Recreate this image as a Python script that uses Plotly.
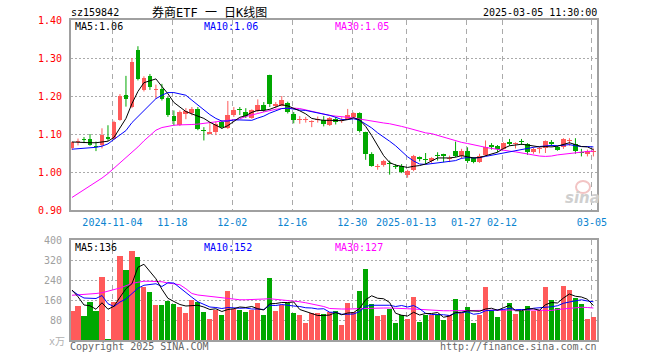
import plotly.graph_objects as go

dates = [
    "2024-10-24", "2024-10-25", "2024-10-28", "2024-10-29", "2024-10-30", "2024-10-31", "2024-11-01",
    "2024-11-04", "2024-11-05", "2024-11-06", "2024-11-07", "2024-11-08",
    "2024-11-11", "2024-11-12", "2024-11-13", "2024-11-14", "2024-11-15",
    "2024-11-18", "2024-11-19", "2024-11-20", "2024-11-21", "2024-11-22",
    "2024-11-25", "2024-11-26", "2024-11-27", "2024-11-28", "2024-11-29",
    "2024-12-02", "2024-12-03", "2024-12-04", "2024-12-05", "2024-12-06",
    "2024-12-09", "2024-12-10", "2024-12-11", "2024-12-12", "2024-12-13",
    "2024-12-16", "2024-12-17", "2024-12-18", "2024-12-19", "2024-12-20",
    "2024-12-23", "2024-12-24", "2024-12-25", "2024-12-26", "2024-12-27",
    "2024-12-30", "2024-12-31", "2025-01-02", "2025-01-03",
    "2025-01-06", "2025-01-07", "2025-01-08", "2025-01-09", "2025-01-10",
    "2025-01-13", "2025-01-14", "2025-01-15", "2025-01-16", "2025-01-17",
    "2025-01-20", "2025-01-21", "2025-01-22", "2025-01-23", "2025-01-24",
    "2025-01-27", "2025-02-05", "2025-02-06", "2025-02-07",
    "2025-02-10", "2025-02-11", "2025-02-12", "2025-02-13", "2025-02-14",
    "2025-02-17", "2025-02-18", "2025-02-19", "2025-02-20", "2025-02-21",
    "2025-02-24", "2025-02-25", "2025-02-26", "2025-02-27", "2025-02-28",
    "2025-03-03", "2025-03-04", "2025-03-05",
]

opens = [1.063, 1.080, 1.087, 1.088, 1.068, 1.070, 1.092, 1.088, 1.138, 1.203,
         1.172, 1.321, 1.217, 1.253, 1.215, 1.219, 1.195, 1.147, 1.123, 1.153,
         1.154, 1.165, 1.111, 1.101, 1.105, 1.132, 1.116, 1.149, 1.165, 1.158,
         1.142, 1.160, 1.177, 1.254, 1.174, 1.175, 1.182, 1.153, 1.138, 1.138,
         1.132, 1.137, 1.136, 1.123, 1.140, 1.133, 1.140, 1.145, 1.155, 1.104,
         1.047, 1.013, 1.019, 1.025, 1.014, 1.017, 0.991, 1.004, 1.039, 1.033,
         1.028, 1.044, 1.047, 1.035, 1.056, 1.041, 1.056, 1.036, 1.026, 1.045,
         1.069, 1.069, 1.061, 1.078, 1.074, 1.081, 1.074, 1.052, 1.060, 1.062,
         1.077, 1.065, 1.065, 1.082, 1.074, 1.053, 1.048, 1.052]
highs = [1.080, 1.088, 1.092, 1.100, 1.080, 1.115, 1.123, 1.135, 1.205, 1.253,
         1.300, 1.331, 1.252, 1.258, 1.230, 1.232, 1.198, 1.162, 1.162, 1.168,
         1.171, 1.171, 1.118, 1.132, 1.132, 1.136, 1.187, 1.171, 1.171, 1.168,
         1.165, 1.191, 1.184, 1.256, 1.184, 1.200, 1.185, 1.158, 1.147, 1.145,
         1.136, 1.146, 1.147, 1.145, 1.145, 1.144, 1.166, 1.157, 1.157, 1.106,
         1.052, 1.021, 1.032, 1.030, 1.021, 1.021, 1.006, 1.045, 1.041, 1.050,
         1.039, 1.052, 1.048, 1.043, 1.080, 1.061, 1.065, 1.039, 1.048, 1.083,
         1.076, 1.071, 1.078, 1.087, 1.078, 1.087, 1.076, 1.065, 1.065, 1.083,
         1.084, 1.069, 1.089, 1.089, 1.089, 1.061, 1.059, 1.062]
lows = [1.058, 1.070, 1.076, 1.069, 1.055, 1.062, 1.082, 1.085, 1.135, 1.172,
        1.168, 1.241, 1.212, 1.216, 1.193, 1.188, 1.145, 1.122, 1.121, 1.139,
        1.149, 1.110, 1.083, 1.099, 1.097, 1.114, 1.113, 1.145, 1.150, 1.142,
        1.140, 1.157, 1.158, 1.171, 1.168, 1.173, 1.154, 1.128, 1.127, 1.130,
        1.118, 1.130, 1.120, 1.121, 1.125, 1.129, 1.137, 1.143, 1.104, 1.032,
        1.014, 1.006, 1.014, 0.993, 1.008, 0.997, 0.985, 1.002, 1.028, 1.021,
        1.024, 1.030, 1.026, 1.026, 1.039, 1.035, 1.024, 1.023, 1.024, 1.043,
        1.059, 1.052, 1.059, 1.069, 1.062, 1.071, 1.045, 1.048, 1.049, 1.050,
        1.067, 1.056, 1.061, 1.069, 1.048, 1.041, 1.041, 1.041]
closes = [1.078, 1.082, 1.085, 1.072, 1.066, 1.097, 1.086, 1.132, 1.200, 1.191,
          1.290, 1.245, 1.247, 1.223, 1.218, 1.192, 1.150, 1.134, 1.158, 1.160,
          1.165, 1.113, 1.109, 1.106, 1.127, 1.118, 1.151, 1.162, 1.162, 1.147,
          1.162, 1.177, 1.162, 1.178, 1.180, 1.190, 1.158, 1.136, 1.140, 1.139,
          1.134, 1.139, 1.127, 1.142, 1.132, 1.137, 1.150, 1.155, 1.109, 1.047,
          1.017, 1.015, 1.028, 1.020, 1.012, 0.999, 1.002, 1.041, 1.033, 1.031,
          1.036, 1.042, 1.041, 1.037, 1.041, 1.054, 1.028, 1.026, 1.043, 1.065,
          1.067, 1.061, 1.076, 1.074, 1.075, 1.079, 1.052, 1.061, 1.061, 1.082,
          1.075, 1.059, 1.087, 1.084, 1.054, 1.051, 1.054, 1.054]
volumes = [117, 135, 95, 151, 115, 251, 5, 151, 335, 281,
           355, 331, 211, 191, 139, 141, 155, 144, 131, 107,
           159, 152, 111, 83, 121, 101, 195, 124, 121, 111,
           121, 147, 99, 248, 115, 141, 148, 108, 99, 67,
           109, 109, 104, 112, 117, 61, 148, 112, 197, 285,
           144, 97, 101, 125, 69, 101, 85, 173, 73, 99,
           99, 104, 81, 99, 165, 108, 133, 69, 101, 211,
           121, 93, 119, 149, 105, 117, 137, 117, 121, 213,
           161, 128, 217, 201, 168, 144, 85, 93]

ma5 = [1.079, 1.078, 1.078, 1.077, 1.077, 1.080, 1.081, 1.091, 1.116, 1.141,
       1.180, 1.212, 1.235, 1.239, 1.245, 1.225, 1.206, 1.183, 1.170, 1.159,
       1.153, 1.146, 1.141, 1.131, 1.124, 1.115, 1.122, 1.133, 1.144, 1.148,
       1.157, 1.162, 1.162, 1.165, 1.172, 1.177, 1.174, 1.168, 1.161, 1.153,
       1.141, 1.138, 1.136, 1.136, 1.135, 1.135, 1.138, 1.143, 1.137, 1.120,
       1.096, 1.069, 1.043, 1.025, 1.018, 1.015, 1.012, 1.015, 1.017, 1.021,
       1.029, 1.037, 1.037, 1.037, 1.039, 1.043, 1.040, 1.037, 1.038, 1.043,
       1.046, 1.052, 1.062, 1.069, 1.071, 1.073, 1.071, 1.068, 1.066, 1.067,
       1.066, 1.068, 1.073, 1.077, 1.072, 1.067, 1.066, 1.059]
ma10 = [1.060, 1.061, 1.062, 1.064, 1.065, 1.068, 1.074, 1.086, 1.097, 1.109,
        1.130, 1.146, 1.163, 1.178, 1.193, 1.202, 1.209, 1.209, 1.205, 1.202,
        1.189, 1.176, 1.162, 1.151, 1.141, 1.134, 1.134, 1.137, 1.137, 1.136,
        1.136, 1.142, 1.147, 1.155, 1.160, 1.167, 1.168, 1.165, 1.163, 1.162,
        1.159, 1.156, 1.152, 1.149, 1.144, 1.138, 1.138, 1.140, 1.136, 1.127,
        1.116, 1.103, 1.093, 1.081, 1.069, 1.055, 1.040, 1.029, 1.021, 1.020,
        1.022, 1.024, 1.026, 1.027, 1.030, 1.036, 1.038, 1.037, 1.038, 1.041,
        1.044, 1.046, 1.050, 1.054, 1.057, 1.059, 1.062, 1.065, 1.067, 1.069,
        1.070, 1.069, 1.071, 1.072, 1.069, 1.067, 1.067, 1.066]
ma30 = [0.933, 0.943, 0.953, 0.962, 0.973, 0.984, 0.996, 1.010, 1.022, 1.037,
        1.050, 1.066, 1.082, 1.097, 1.110, 1.117, 1.121, 1.123, 1.124, 1.124,
        1.125, 1.126, 1.128, 1.131, 1.133, 1.134, 1.136, 1.137, 1.140, 1.146,
        1.149, 1.154, 1.158, 1.162, 1.165, 1.167, 1.168, 1.168, 1.167, 1.163,
        1.160, 1.156, 1.152, 1.149, 1.147, 1.146, 1.144, 1.142, 1.139, 1.137,
        1.135, 1.132, 1.129, 1.127, 1.124, 1.120, 1.116, 1.111, 1.107, 1.103,
        1.101, 1.096, 1.091, 1.086, 1.081, 1.078, 1.075, 1.071, 1.068, 1.065,
        1.062, 1.059, 1.056, 1.055, 1.053, 1.050, 1.046, 1.043, 1.042, 1.041,
        1.042, 1.045, 1.047, 1.049, 1.051, 1.052, 1.054, 1.055]

vma5 = [200, 173, 140, 137, 123, 149, 123, 135, 171, 205,
        225, 291, 303, 274, 245, 203, 167, 154, 142, 136,
        139, 139, 132, 122, 125, 114, 122, 125, 132, 130,
        134, 125, 120, 145, 146, 150, 150, 152, 122, 113,
        106, 98, 98, 100, 110, 101, 108, 110, 127, 161,
        177, 167, 165, 150, 107, 99, 96, 111, 100, 106,
        106, 110, 91, 96, 110, 111, 117, 115, 115, 124,
        127, 119, 129, 139, 117, 117, 125, 125, 119, 141,
        150, 148, 168, 184, 175, 172, 163, 138]
vma10 = [198, 181, 168, 168, 166, 178, 145, 134, 152, 164,
         187, 207, 219, 223, 225, 214, 229, 228, 208, 191,
         171, 153, 143, 132, 130, 126, 130, 128, 127, 128,
         124, 124, 122, 139, 138, 142, 138, 136, 134, 129,
         128, 124, 125, 111, 111, 103, 103, 104, 114, 135,
         139, 138, 137, 139, 134, 138, 132, 138, 125, 107,
         102, 103, 101, 98, 108, 109, 113, 103, 106, 117,
         119, 118, 122, 127, 121, 122, 122, 127, 129, 129,
         133, 137, 147, 152, 158, 161, 156, 153]
vma30 = [179, 180, 181, 184, 186, 189, 195, 201, 208, 217,
         226, 231, 235, 235, 235, 233, 228, 224, 221, 205,
         186, 180, 177, 173, 170, 167, 164, 161, 161, 161,
         161, 162, 164, 165, 163, 161, 160, 157, 153, 149,
         145, 140, 134, 126, 124, 124, 124, 125, 126, 128,
         128, 128, 128, 128, 128, 127, 125, 124, 122, 121,
         119, 118, 117, 117, 117, 117, 117, 117, 117, 117,
         118, 118, 118, 119, 120, 121, 121, 121, 120, 118,
         118, 122, 125, 128, 130, 131, 130, 128]

tick_dates = ["2024-11-04", "2024-11-18", "2024-12-02", "2024-12-16", "2024-12-30",
              "2025-01-13", "2025-01-27", "2025-02-12", "2025-03-05"]
tick_labels = ["2024-11-04", "11-18", "12-02", "12-16", "12-30",
               "2025-01-13", "01-27", "02-12", "03-05"]
price_ticks = [0.90, 1.00, 1.10, 1.20, 1.30, 1.40]
vol_ticks = [80, 160, 240, 320, 400]

RED = "#ff5a5a"
GREEN = "#00a800"
MONO = "DejaVu Sans Mono"
GRID = "#aaaaaa"
BORDER = "#a0a0a0"

x = list(range(len(dates)))
up = [c >= o for o, c in zip(opens, closes)]
colors = [RED if u else GREEN for u in up]
body_base = [min(o, c) for o, c in zip(opens, closes)]
body_h = [max(abs(c - o), 0.0028) for o, c in zip(opens, closes)]

fig = go.Figure()

for col, flag in ((RED, True), (GREEN, False)):
    wx, wy = [], []
    for i in x:
        if up[i] == flag:
            wx += [i, i, None]
            wy += [lows[i], highs[i], None]
    fig.add_trace(go.Scatter(x=wx, y=wy, mode="lines", line=dict(color=col, width=1),
                             xaxis="x", yaxis="y", hoverinfo="skip"))

fig.add_trace(go.Bar(x=x, y=body_h, base=body_base, width=0.8,
                     marker=dict(color=colors, line=dict(width=0)),
                     xaxis="x", yaxis="y", hoverinfo="skip"))

for arr, col in ((ma30, "#ff00ff"), (ma10, "#0000ff"), (ma5, "#000000")):
    fig.add_trace(go.Scatter(x=x, y=arr, mode="lines", line=dict(color=col, width=1),
                             xaxis="x", yaxis="y", hoverinfo="skip"))

fig.add_trace(go.Bar(x=x, y=volumes, width=0.85,
                     marker=dict(color=colors, line=dict(width=0)),
                     xaxis="x2", yaxis="y2", hoverinfo="skip"))
for arr, col in ((vma30, "#ff00ff"), (vma10, "#0000ff"), (vma5, "#000000")):
    fig.add_trace(go.Scatter(x=x, y=arr, mode="lines", line=dict(color=col, width=1),
                             xaxis="x2", yaxis="y2", hoverinfo="skip"))

tickvals = [dates.index(d) - 0.25 for d in tick_dates]
xrange = [-0.17, len(dates) - 0.4]

L, R, T, B = 71, 63, 20, 20
W, H = 660, 360
PW, PH = W - L - R, H - T - B


def px(xp):
    return (xp - L) / PW


def py(yp):
    return (H - B - yp) / PH


common_x = dict(range=xrange, tickvals=tickvals, showgrid=True, gridcolor=GRID,
                griddash="5px,4px", gridwidth=1, showline=True, mirror=True,
                linecolor=BORDER, linewidth=2, ticks="", zeroline=False, fixedrange=True)

fig.update_layout(
    width=W, height=H, margin=dict(l=L, r=R, t=T, b=B),
    paper_bgcolor="white", plot_bgcolor="white", showlegend=False,
    barmode="overlay", bargap=0,
    xaxis=dict(domain=[0, 1], anchor="y", ticktext=tick_labels,
               tickfont=dict(family=MONO, size=10, color="#0a84d0"),
               ticklabelstandoff=2, **common_x),
    xaxis2=dict(domain=[0, 1], anchor="y2", showticklabels=False, **common_x),
    yaxis=dict(domain=[(H - B - 210) / PH, 1], anchor="x", range=[0.9, 1.4],
               tickvals=price_ticks, ticktext=[f"{v:.2f}" for v in price_ticks],
               tickfont=dict(family=MONO, size=10, color="#ff0000"),
               showgrid=True, gridcolor=GRID, griddash="2px,2px", gridwidth=1,
               showline=True, mirror=True, linecolor=BORDER, linewidth=2,
               ticks="", ticklabelstandoff=5, zeroline=False, fixedrange=True),
    yaxis2=dict(domain=[0, (H - B - 240) / PH], anchor="x2", range=[0, 400],
                tickvals=vol_ticks, ticktext=[str(v) for v in vol_ticks],
                tickfont=dict(family=MONO, size=10, color="#a0a0a0"),
                showgrid=True, gridcolor=GRID, griddash="2px,2px", gridwidth=1,
                showline=True, mirror=True, linecolor=BORDER, linewidth=2,
                ticks="", ticklabelstandoff=5, zeroline=False, fixedrange=True),
)


def note(text, xp, yp, color="#000000", size=10, anchor="left", family=MONO, **kw):
    fig.add_annotation(text=text, x=px(xp), y=py(yp), xref="paper", yref="paper",
                       xanchor=anchor, yanchor="middle", showarrow=False,
                       font=dict(family=family, size=size, color=color), **kw)


note("sz159842", 69, 13)
note("券商ETF 一 日K线图", 209, 13, size=12, anchor="center",
     family="DejaVu Sans Mono, Noto Sans CJK SC")
note("2025-03-05 11:30:00", 599, 13, anchor="right")
note("MA5:1.06", 73, 27)
note("MA10:1.06", 202, 27, color="#0000ff")
note("MA30:1.05", 333, 27, color="#ff00ff")
note("MA5:136", 73, 247)
note("MA10:152", 202, 247, color="#0000ff")
note("MA30:127", 333, 247, color="#ff00ff")
note("x万", 57, 341, color="#b0b0b0", anchor="center",
     family="DejaVu Sans Mono, Noto Sans CJK SC")
note("Copyright 2025 SINA.COM", 68, 346, color="#666666")
note("http://finance.sina.com.cn", 599, 346, color="#666666", anchor="right")

# sina watermark
fig.add_shape(type="circle", xref="paper", yref="paper",
              x0=px(576), x1=px(590), y0=py(193), y1=py(181),
              line=dict(color="#f2c4c4", width=2))
note("<b><i>sina</i></b>", 582, 198, color="#cfcfcf", size=15, anchor="center",
     family="DejaVu Sans")

fig.write_html("out.html", config={"displayModeBar": False, "staticPlot": True},
               post_script="document.body.style.margin='0px';document.body.style.overflow='hidden';")
